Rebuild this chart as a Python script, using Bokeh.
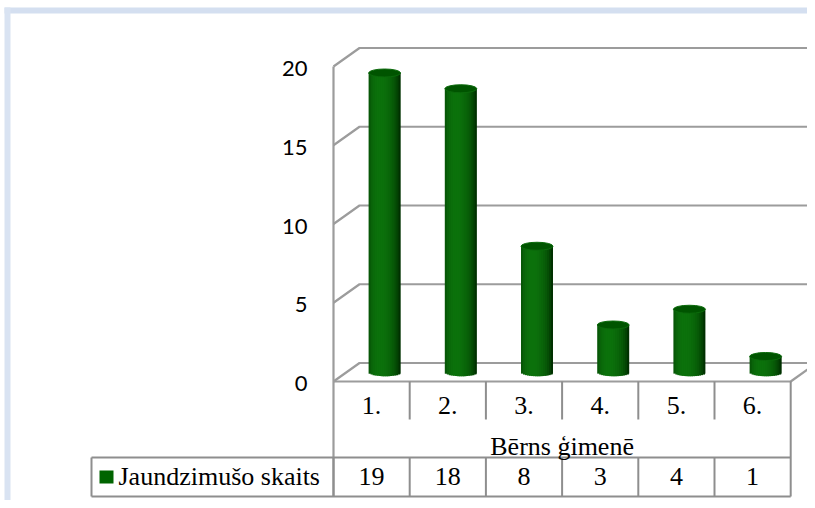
import math
from bokeh.plotting import figure
from bokeh.models import Range1d
from bokeh.core.properties import value
from bokeh.embed import file_html
from bokeh.resources import INLINE

# ---------------- data ----------------
categories = ["1.", "2.", "3.", "4.", "5.", "6."]
counts = [19, 18, 8, 3, 4, 1]
y_ticks = [0, 5, 10, 15, 20]
series_name = "Jaundzimušo skaits"
axis_title = "Bērns ģimenē"

# ---------------- layout ----------------
W, H = 807, 500
X0_PX, Y0_PX = 333, 381  # front-left corner of the floor (value 0)
COL_PX = 76.2            # width of one category
UNIT_PX = 15.75          # pixels per value unit


def xd(px):
    return (px - X0_PX) / COL_PX


def yd(py):
    return (Y0_PX - py) / UNIT_PX


DX = 26 / COL_PX         # depth offset
DY = 18.5 / UNIT_PX
BW = 32 / COL_PX         # cylinder width
EH = 8 / UNIT_PX         # ellipse height

GRID = "#9c9c9c"
TBL = "#8e8e8e"
SERIF = value("Liberation Serif")
SANS = value("Lato")

p = figure(width=W, height=H,
           x_range=Range1d(xd(0), xd(W)),
           y_range=Range1d(yd(H), yd(0)),
           output_backend="svg", toolbar_location=None,
           x_axis_type=None, y_axis_type=None, min_border=0,
           outline_line_color=None, background_fill_color="white",
           border_fill_color="white")

# window frame decoration
p.quad(left=[xd(4)], right=[xd(900)], top=[yd(7)], bottom=[yd(13)],
       fill_color="#d4dff0", line_color=None)
p.quad(left=[xd(4)], right=[xd(10)], top=[yd(7)], bottom=[yd(600)],
       fill_color="#d9e3f2", line_color=None)

n = len(categories)
x_far = xd(900)

# back-wall gridlines with left-wall diagonals
p.multi_line(xs=[[0, DX, x_far] for _ in y_ticks],
             ys=[[t, t + DY, t + DY] for t in y_ticks],
             line_color=GRID, line_width=2.2)

# left front edge (continues into the table)
r1, r2, r3 = yd(419), yd(457), yd(496)
xl = xd(91)
p.line([0, 0], [y_ticks[-1], r3], line_color=GRID, line_width=2.2)

# floor front edge and right side
p.line([0, n, n + DX], [0, 0, DY], line_color=GRID, line_width=2.2)

# table lines
p.line([n, n], [0, r3], line_color=TBL, line_width=2)
p.multi_line(xs=[[i, i] for i in range(1, n)], ys=[[0, r1] for _ in range(1, n)],
             line_color=TBL, line_width=2)
p.multi_line(xs=[[i, i] for i in range(1, n)], ys=[[r2, r3] for _ in range(1, n)],
             line_color=TBL, line_width=2)
p.multi_line(xs=[[xl, n], [xl, n], [xl, xl]], ys=[[r2, r2], [r3, r3], [r2, r3]],
             line_color=TBL, line_width=2)
p.line([0, 0], [r2, r3], line_color=TBL, line_width=2)

# cylinders (shaded as overlapping vertical strips)
NS = 16
dark = (0, 45, 0)
bright = (12, 114, 12)


def shade(u):
    th = math.asin(max(-1.0, min(1.0, u)))
    inten = max(0.0, math.cos(th + 0.3))
    c = [int(d + (b - d) * inten) for d, b in zip(dark, bright)]
    return "#%02x%02x%02x" % tuple(c)


L, R, B, T, C = [], [], [], [], []
xc_list, yt_list = [], []
sw = BW / NS
for i, v in enumerate(counts):
    xc = i + 0.5 + DX / 2
    yb = DY / 2
    yt = v + DY / 2
    xc_list.append(xc)
    yt_list.append(yt)
    for k in range(NS):
        u0 = -1 + 2 * k / NS
        u1 = u0 + 2 / NS
        uc = (u0 + u1) / 2
        L.append(xc + u0 * BW / 2)
        R.append(min(xc + u1 * BW / 2 + sw * 0.8, xc + BW / 2))
        B.append(yb - (EH / 2) * math.sqrt(max(0.0, 1 - uc * uc)))
        T.append(yt)
        C.append(shade(uc))

p.quad(left=L, right=R, bottom=B, top=T, fill_color=C, line_color=None)
p.ellipse(x=xc_list, y=yt_list, width=BW, height=EH,
          fill_color="#005400", line_color="#0b6a0b", line_width=1)

# y tick labels
p.text(x=[xd(307)] * len(y_ticks), y=y_ticks, text=[str(t) for t in y_ticks],
       text_align="right", text_baseline="middle", y_offset=2,
       text_font=SANS, text_font_size="22px", text_color="#000000")

# category labels
p.text(x=[i + 0.5 for i in range(n)], y=[yd(405)] * n, text=categories,
       text_align="center", text_baseline="middle",
       text_font=SERIF, text_font_size="26px", text_color="#000000")

# axis title
p.text(x=[n / 2], y=[yd(446)], text=[axis_title],
       text_align="center", text_baseline="middle",
       text_font=SERIF, text_font_size="26px", text_color="#000000")

# data table values
p.text(x=[i + 0.5 for i in range(n)], y=[yd(476)] * n, text=[str(c) for c in counts],
       text_align="center", text_baseline="middle",
       text_font=SERIF, text_font_size="26px", text_color="#000000")

# legend key + name
p.quad(left=[xd(99)], right=[xd(113)], top=[yd(470)], bottom=[yd(483)],
       fill_color="#006400", line_color=None)
p.text(x=[xd(118)], y=[yd(476)], text=[series_name],
       text_align="left", text_baseline="middle",
       text_font=SERIF, text_font_size="26px", text_color="#000000")

open("out.html", "w").write(file_html(p, INLINE))
